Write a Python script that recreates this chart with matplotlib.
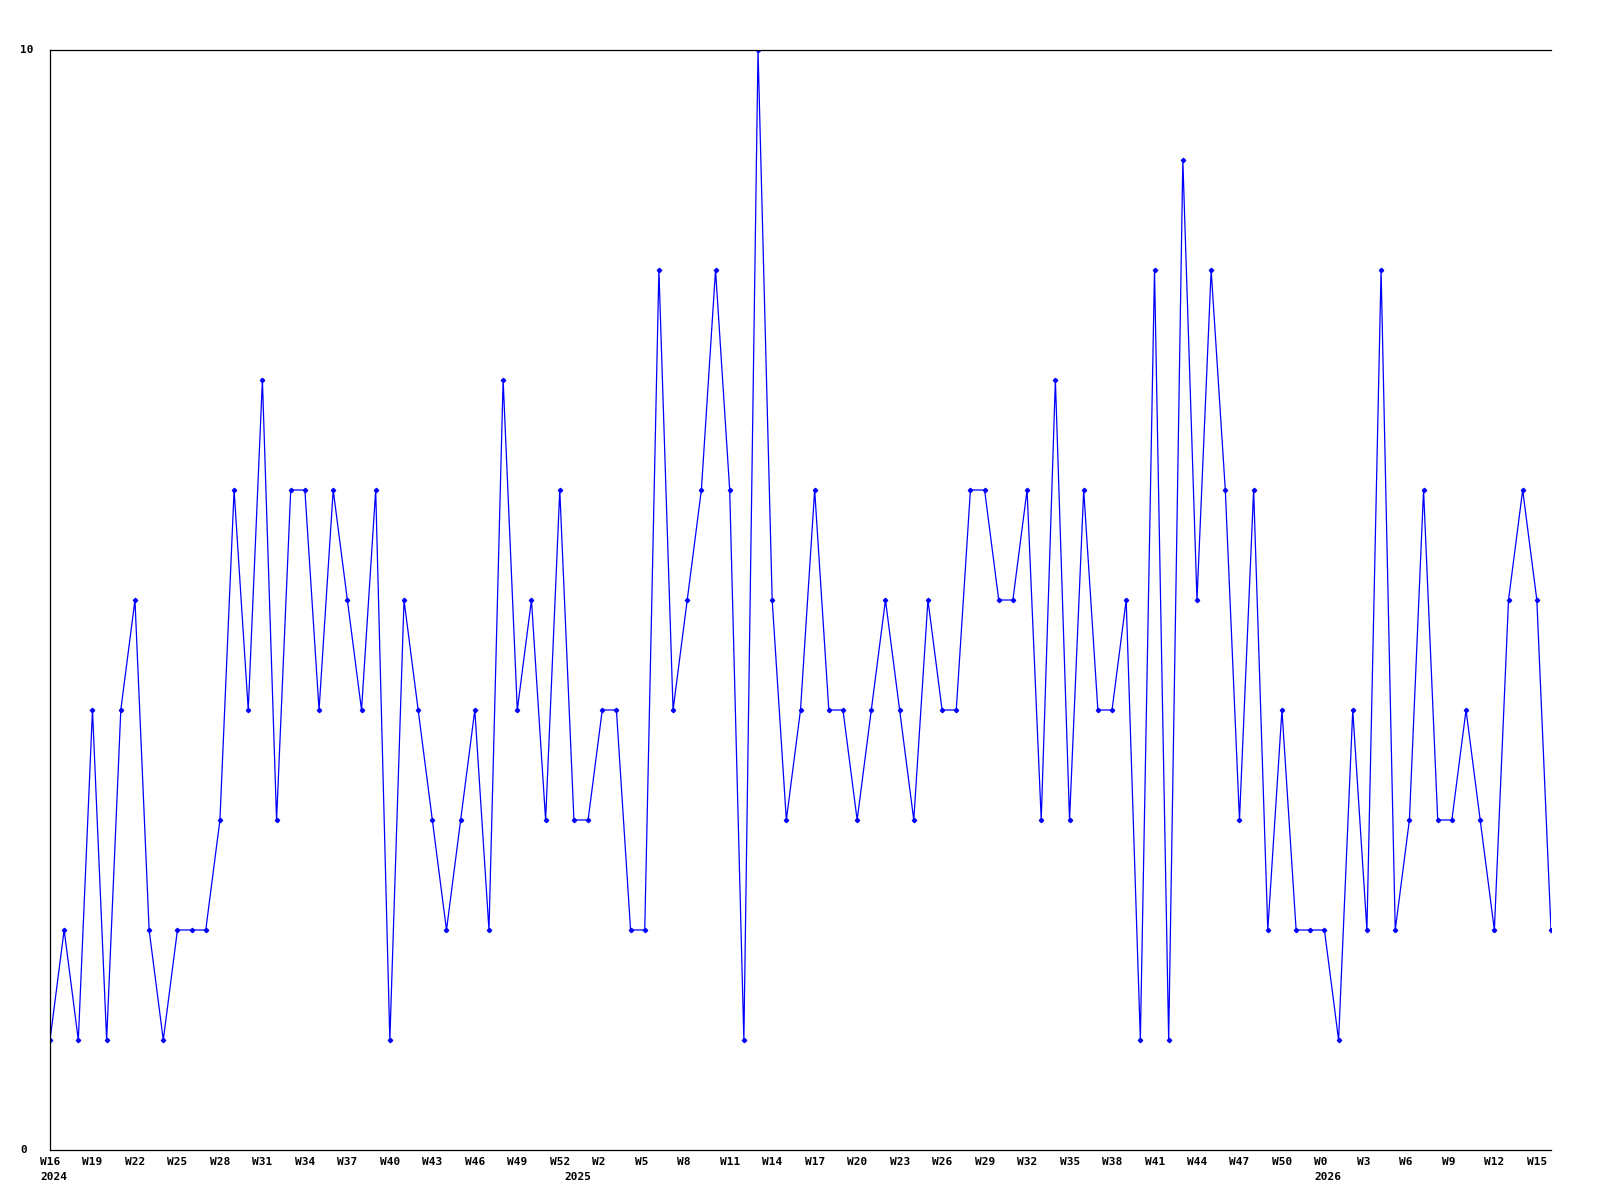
import matplotlib
matplotlib.use("Agg")
import matplotlib.pyplot as plt
from matplotlib.transforms import ScaledTranslation, blended_transform_factory

# weekly counts, W16 2024 .. W15 2026
values = [1, 2, 1, 4, 1, 4, 5, 2, 1, 2, 2, 2, 3, 6, 4, 7, 3, 6, 6, 4,
          6, 5, 4, 6, 1, 5, 4, 3, 2, 3, 4, 2, 7, 4, 5, 3, 6, 3, 3, 4,
          4, 2, 2, 8, 4, 5, 6, 8, 6, 1, 10, 5, 3, 4, 6, 4, 4, 3, 4, 5,
          4, 3, 5, 4, 4, 6, 6, 5, 5, 6, 3, 7, 3, 6, 4, 4, 5, 1, 8, 1,
          9, 5, 8, 6, 3, 6, 2, 4, 2, 2, 2, 1, 4, 2, 8, 2, 3, 6, 3, 3,
          4, 3, 2, 5, 6, 5, 2]

week_labels = ["W16", "W19", "W22", "W25", "W28", "W31", "W34", "W37", "W40",
               "W43", "W46", "W49", "W52", "W2", "W5", "W8", "W11", "W14",
               "W17", "W20", "W23", "W26", "W29", "W32", "W35", "W38", "W41",
               "W44", "W47", "W50", "W0", "W3", "W6", "W9", "W12", "W15"]
week_label_step = 3

year_labels = ["2024", "2025", "2026"]
year_positions = [0, 37, 90]

y_labels = ["0", "10"]
y_ticks = [0, 10]

fig = plt.figure(figsize=(16, 12), dpi=100)
ax = fig.add_axes([50 / 1600, 50 / 1200, 1501 / 1600, 1100 / 1200])

x = list(range(len(values)))
ax.plot(x, values, color="#0000ff", lw=0.9, marker="D", ms=2.2,
        mfc="#0000ff", mec="#0000ff")

ax.set_xlim(0, len(values) - 1)
ax.set_ylim(0, 10)

for side in ("left", "bottom", "top"):
    ax.spines[side].set_color("black")
    ax.spines[side].set_linewidth(0.9)
ax.spines["right"].set_visible(False)

ax.set_xticks([])
ax.set_yticks([])

font = dict(family="DejaVu Sans Mono", weight="bold", fontsize=8, color="black")

# x labels: left edge ~10px before the point
shift = ScaledTranslation(-0.10, 0, fig.dpi_scale_trans)
xtrans = ax.get_xaxis_transform() + shift
for i, lab in enumerate(week_labels):
    ax.text(i * week_label_step, -0.006, lab, transform=xtrans,
            ha="left", va="top", **font)
for pos, lab in zip(year_positions, year_labels):
    ax.text(pos, -0.02, lab, transform=xtrans, ha="left", va="top", **font)

# y labels at the left margin of the figure
ytrans = blended_transform_factory(fig.transFigure, ax.transData)
for val, lab in zip(y_ticks, y_labels):
    ax.text(20 / 1600, val, lab, transform=ytrans, ha="left", va="center", **font)

fig.savefig("out.png", dpi=100)
